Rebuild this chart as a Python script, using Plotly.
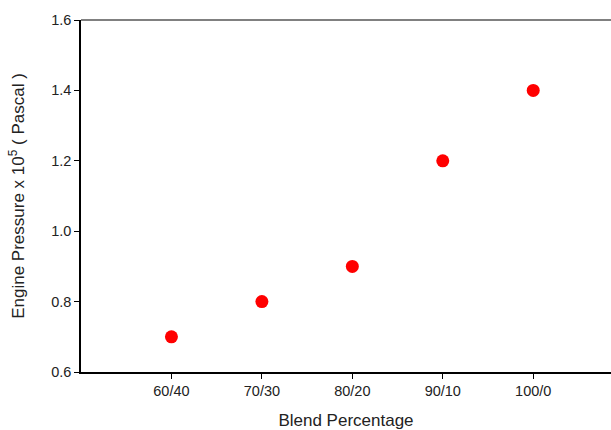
import plotly.graph_objects as go

blend_values = [60, 70, 80, 90, 100]
blend_labels = ["60/40", "70/30", "80/20", "90/10", "100/0"]
pressure = [0.7, 0.8, 0.9, 1.2, 1.4]
y_ticks = [0.6, 0.8, 1.0, 1.2, 1.4, 1.6]
y_tick_labels = ["0.6", "0.8", "1.0", "1.2", "1.4", "1.6"]

font_family = "Liberation Sans, Arial, sans-serif"
text_color = "#222222"

fig = go.Figure()
fig.add_trace(go.Scatter(
    x=blend_values, y=pressure, mode="markers",
    marker=dict(color="#ff0000", size=13, line=dict(width=0)),
    showlegend=False, cliponaxis=False,
))

fig.update_layout(
    width=611, height=430,
    margin=dict(l=81, r=0, t=20, b=58),
    paper_bgcolor="white", plot_bgcolor="white",
    font=dict(family=font_family, color=text_color),
    xaxis=dict(
        range=[50, 108.6], tickmode="array", tickvals=blend_values, ticktext=blend_labels,
        showline=True, linecolor="black", linewidth=1.5, ticks="outside", ticklen=5,
        tickcolor="black", showgrid=False, zeroline=False,
        tickfont=dict(size=14.5, family=font_family, color=text_color),
        title=dict(text="Blend Percentage", font=dict(size=17, family=font_family, color=text_color), standoff=19),
    ),
    yaxis=dict(
        range=[0.6, 1.6], tickmode="array", tickvals=y_ticks, ticktext=y_tick_labels,
        showline=True, linecolor="black", linewidth=1.5, ticks="outside", ticklen=5,
        tickcolor="black", showgrid=False, zeroline=False,
        tickfont=dict(size=14.5, family=font_family, color=text_color),
        title=dict(text="Engine Pressure x 10<sup>5</sup> ( Pascal )",
                   font=dict(size=17, family=font_family, color=text_color), standoff=22),
    ),
    shapes=[dict(type="line", xref="paper", yref="paper", x0=0, x1=1, y0=1, y1=1,
                 layer="above", line=dict(color="#808080", width=2))],
)

fig.write_html("out.html", config={"displayModeBar": False},
               post_script="document.body.style.margin='0';document.body.style.overflow='hidden';")
